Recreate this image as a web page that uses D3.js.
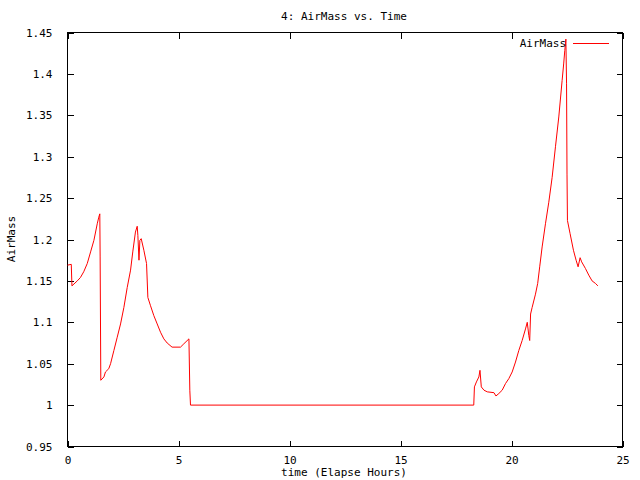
<!DOCTYPE html>
<html>
<head>
<meta charset="utf-8">
<script src="https://cdn.jsdelivr.net/npm/d3@7"></script>
<style>
body { margin: 0; background: #fff; }
text { font-family: "DejaVu Sans Mono", monospace; font-size: 11px; fill: #000; }
</style>
</head>
<body>
<div id="chart"></div>
<script>
// elapsed hours and airmass
var hours = [0, 0.17, 0.2, 0.44, 0.58, 0.73, 0.89, 1.04, 1.19, 1.34, 1.41, 1.455, 1.47, 1.5,
	1.64, 1.71, 1.86, 1.94, 2.09, 2.24, 2.39, 2.54, 2.69, 2.84, 2.94, 3.06, 3.14, 3.17, 3.22,
	3.26, 3.32, 3.44, 3.56, 3.62, 3.74, 3.89, 4.04, 4.19, 4.34, 4.49, 4.71, 5.09, 5.24, 5.47,
	5.51, 5.54, 18.3, 18.33, 18.42, 18.53, 18.58, 18.64, 18.76, 18.91, 19.21, 19.3, 19.43,
	19.58, 19.73, 19.88, 20.03, 20.18, 20.33, 20.48, 20.63, 20.71, 20.78, 20.82, 20.86, 20.93,
	21.08, 21.18, 21.27, 21.38, 21.53, 21.68, 21.83, 21.98, 22.13, 22.28, 22.35, 22.4, 22.45,
	22.48, 22.5, 22.52, 22.64, 22.79, 22.91, 23.0, 23.09, 23.16, 23.33, 23.48, 23.63, 23.78, 23.89];
var airmass = [1.169, 1.170, 1.144, 1.150, 1.154, 1.161, 1.171, 1.185, 1.199, 1.219, 1.227, 1.231, 1.18, 1.030,
	1.034, 1.040, 1.044, 1.050, 1.066, 1.082, 1.098, 1.118, 1.142, 1.163, 1.185, 1.209, 1.216, 1.205, 1.175,
	1.199, 1.201, 1.187, 1.171, 1.130, 1.120, 1.108, 1.098, 1.088, 1.080, 1.075, 1.070, 1.070, 1.074, 1.080,
	1.018, 1.000, 1.000, 1.022, 1.028, 1.034, 1.042, 1.022, 1.018, 1.016, 1.015, 1.011, 1.014,
	1.018, 1.026, 1.032, 1.040, 1.052, 1.066, 1.078, 1.092, 1.100, 1.084, 1.078, 1.110, 1.118,
	1.134, 1.147, 1.167, 1.191, 1.219, 1.245, 1.275, 1.312, 1.348, 1.392, 1.412, 1.428, 1.442,
	1.388, 1.279, 1.223, 1.207, 1.187, 1.175, 1.167, 1.178, 1.173, 1.165, 1.157, 1.150, 1.147, 1.144];
var xTicks = [0, 5, 10, 15, 20, 25];
var yTicks = [0.95, 1, 1.05, 1.1, 1.15, 1.2, 1.25, 1.3, 1.35, 1.4, 1.45];

var svgWidth = 640, svgHeight = 480;
var plotLeft = 67.5, plotRight = 622.5, plotTop = 32.5, plotBottom = 446.5;

var x = d3.scaleLinear().domain([0, 25]).range([plotLeft, plotRight]);
var y = d3.scaleLinear().domain([0.95, 1.45]).range([plotBottom, plotTop]);

var svg = d3.select('#chart').append('svg')
	.attr('width', svgWidth)
	.attr('height', svgHeight);

// ticks point inward on all four sides, gnuplot style
svg.append('g')
	.attr('transform', 'translate(0,' + plotBottom + ')')
	.call(d3.axisBottom(x).tickValues(xTicks).tickSizeInner(-6).tickSizeOuter(0).tickPadding(10))
	.call(function (g) { g.select('.domain').remove(); });
svg.append('g')
	.attr('transform', 'translate(0,' + plotTop + ')')
	.call(d3.axisTop(x).tickValues(xTicks).tickSizeInner(-6).tickSizeOuter(0).tickFormat(''))
	.call(function (g) { g.select('.domain').remove(); });
svg.append('g')
	.attr('transform', 'translate(' + plotLeft + ',0)')
	.call(d3.axisLeft(y).tickValues(yTicks).tickSizeInner(-6).tickSizeOuter(0).tickPadding(15)
		.tickFormat(function (d) { return String(+d.toFixed(2)); }))
	.call(function (g) { g.select('.domain').remove(); });
svg.append('g')
	.attr('transform', 'translate(' + plotRight + ',0)')
	.call(d3.axisRight(y).tickValues(yTicks).tickSizeInner(-6).tickSizeOuter(0).tickFormat(''))
	.call(function (g) { g.select('.domain').remove(); });

svg.selectAll('.tick line').attr('stroke', '#000').attr('shape-rendering', 'crispEdges');
svg.selectAll('.tick text').style('font-family', '"DejaVu Sans Mono", monospace').style('font-size', '11px');

svg.append('rect')
	.attr('x', plotLeft).attr('y', plotTop)
	.attr('width', plotRight - plotLeft).attr('height', plotBottom - plotTop)
	.attr('fill', 'none').attr('stroke', '#000')
	.attr('shape-rendering', 'crispEdges');

var pts = hours.map(function (h, i) { return [h, airmass[i]]; });
var line = d3.line()
	.x(function (d) { return x(d[0]); })
	.y(function (d) { return y(d[1]); });

svg.append('path')
	.datum(pts)
	.attr('d', line)
	.attr('fill', 'none')
	.attr('stroke', '#ff0000')
	.attr('stroke-width', 1);

// legend
svg.append('text').attr('x', 566).attr('y', 47).attr('text-anchor', 'end').text('AirMass');
svg.append('line').attr('x1', 573).attr('x2', 609).attr('y1', 43.5).attr('y2', 43.5)
	.attr('stroke', '#ff0000');

svg.append('text').attr('x', 344).attr('y', 20).attr('text-anchor', 'middle').text('4: AirMass vs. Time');
svg.append('text').attr('x', 344).attr('y', 476).attr('text-anchor', 'middle').text('time (Elapse Hours)');
svg.append('text')
	.attr('transform', 'translate(15,239) rotate(-90)')
	.attr('text-anchor', 'middle')
	.text('AirMass');
</script>
</body>
</html>
